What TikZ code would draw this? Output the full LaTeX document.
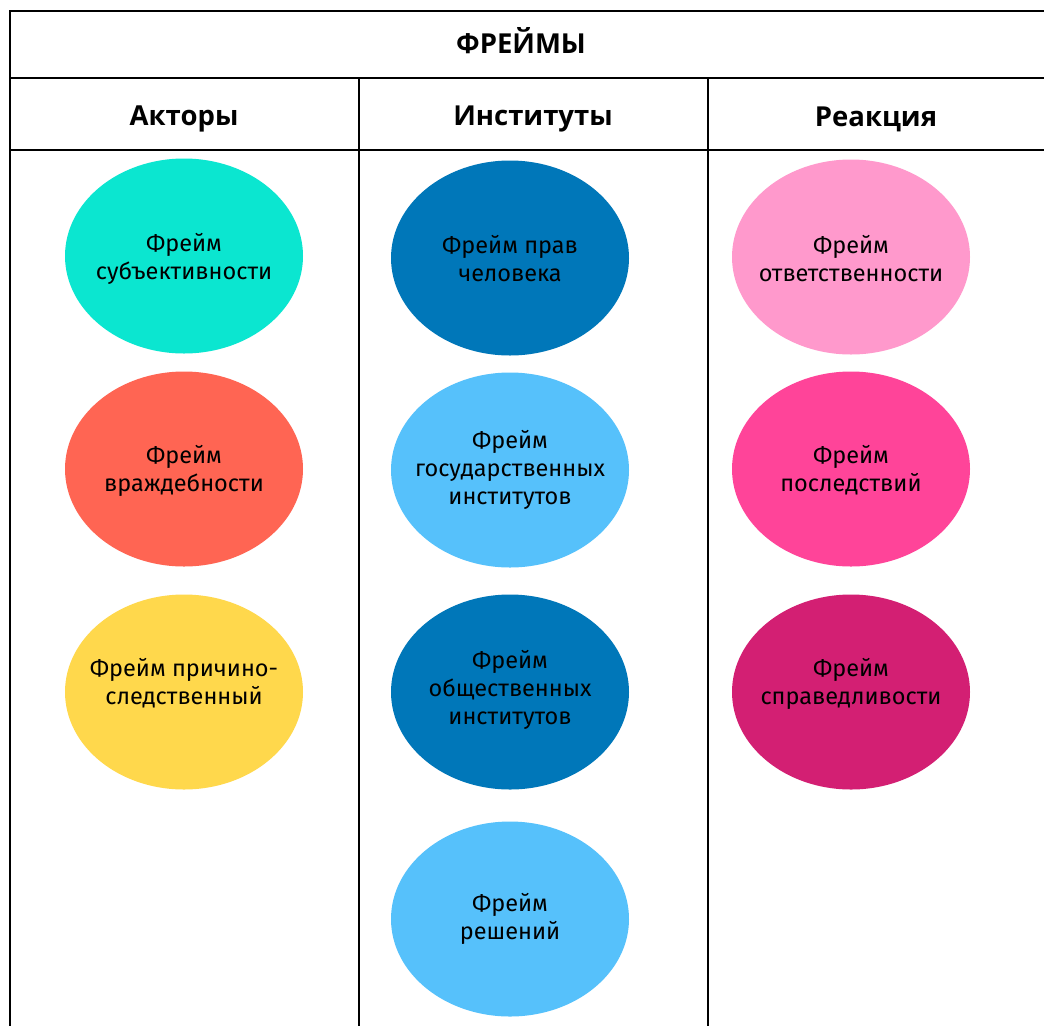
\documentclass[tikz,border=0pt]{standalone}
\usepackage{fontspec}
\setmainfont{Fira Sans}
\newfontfamily\headfont{Open Sans}
\usetikzlibrary{shapes.geometric}
\begin{document}
\begin{tikzpicture}[x=1pt,y=-1pt,
  frame/.style={ellipse, minimum width=238pt, minimum height=195pt, inner sep=0pt, draw=none},
  frametext/.style={align=center, inner sep=0pt, font=\fontsize{23.5}{28}\selectfont, text=black},
  gridline/.style={line width=1.6pt, black},
  headtext/.style={font=\headfont\bfseries\fontsize{27.5}{32}\selectfont}]
\useasboundingbox (0,0) rectangle (1044,1026);
\fill[white] (0,0) rectangle (1044,1026);
% grid
\draw[gridline] (1044,11) -- (10,11) -- (10,1026);
\draw[gridline] (10,78) -- (1044,78);
\draw[gridline] (10,150) -- (1044,150);
\draw[gridline] (359,78) -- (359,1026);
\draw[gridline] (708,78) -- (708,1026);
% headers
\node[headtext] (title) at (521,41) {ФРЕЙМЫ};
\node[headtext] (h1) at (184,119) {Акторы};
\node[headtext] (h2) at (533,119) {Институты};
\node[headtext] (h3) at (876,119) {Реакция};
% column 1
\node[frame, fill={rgb,255:red,11;green,230;blue,208}] (a1) at (184,256) {};
\node[frametext] (a1t) at (184,258.5) {Фрейм\\субъективности};
\node[frame, fill={rgb,255:red,255;green,101;blue,83}] (a2) at (184,469) {};
\node[frametext] (a2t) at (184,470.5) {Фрейм\\враждебности};
\node[frame, fill={rgb,255:red,255;green,216;blue,76}] (a3) at (184,692) {};
\node[frametext] (a3t) at (184,683) {Фрейм причино-\\следственный};
% column 2
\node[frame, fill={rgb,255:red,0;green,119;blue,185}] (b1) at (510,258) {};
\node[frametext] (b1t) at (510,258.5) {Фрейм прав\\человека};
\node[frame, fill={rgb,255:red,86;green,193;blue,251}] (b2) at (510,470) {};
\node[frametext] (b2t) at (510,469.5) {Фрейм\\государственных\\институтов};
\node[frame, fill={rgb,255:red,0;green,119;blue,185}] (b3) at (510,692) {};
\node[frametext] (b3t) at (510,689.5) {Фрейм\\общественных\\институтов};
\node[frame, fill={rgb,255:red,86;green,193;blue,251}] (b4) at (510,919) {};
\node[frametext] (b4t) at (510,918.5) {Фрейм\\решений};
% column 3
\node[frame, fill={rgb,255:red,255;green,153;blue,204}] (c1) at (851,257) {};
\node[frametext] (c1t) at (851,258.5) {Фрейм\\ответственности};
\node[frame, fill={rgb,255:red,255;green,68;blue,153}] (c2) at (851,469) {};
\node[frametext] (c2t) at (851,470.5) {Фрейм\\последствий};
\node[frame, fill={rgb,255:red,211;green,31;blue,115}] (c3) at (851,692) {};
\node[frametext] (c3t) at (851,683.5) {Фрейм\\справедливости};
\end{tikzpicture}
\end{document}
